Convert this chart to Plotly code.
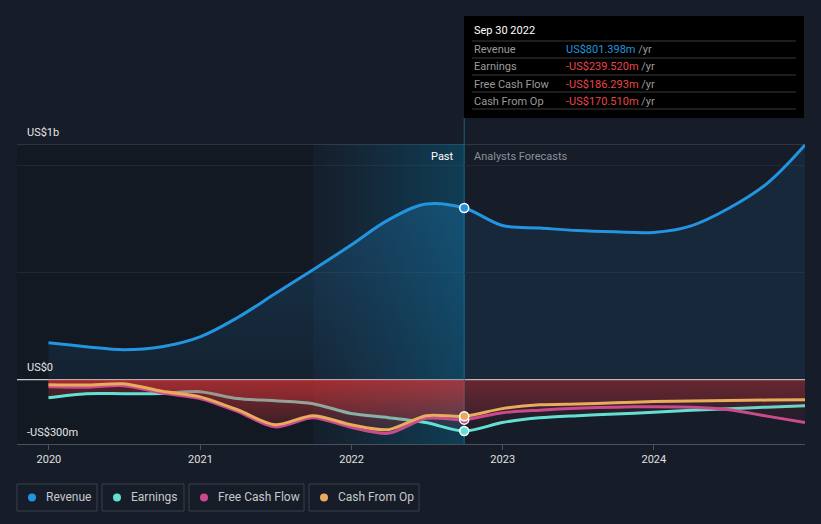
import plotly.graph_objects as go

# ---------------- data ----------------
dates_past = ["2019-12-31", "2020-03-31", "2020-06-30", "2020-09-30", "2020-12-31",
              "2021-03-31", "2021-06-30", "2021-09-30", "2021-12-31", "2022-03-31",
              "2022-06-30", "2022-09-30"]
dates_fc = ["2022-09-30", "2022-12-31", "2023-03-31", "2023-06-30", "2023-09-30",
            "2023-12-31", "2024-03-31", "2024-06-30", "2024-09-30", "2024-12-31"]

revenue_past = [172, 154, 140, 154, 200, 289, 401, 513, 629, 746, 820, 801.398]
revenue_fc = [801.398, 720, 708, 696, 690, 687, 718, 800, 915, 1095]

earnings_past = [-84, -65, -65, -64, -56, -88, -98, -112, -158, -177, -200, -239.52]
earnings_fc = [-239.52, -200, -178, -168, -160, -152, -143, -135, -128, -121]

fcf_past = [-33, -35, -28, -62, -88, -148, -220, -177, -222, -250, -180, -186.293]
fcf_fc = [-186.293, -154, -142, -133, -128, -126, -128, -140, -170, -200]

cfo_past = [-23, -25, -19, -54, -80, -140, -210, -168, -210, -233, -168, -170.51]
cfo_fc = [-170.51, -135, -117, -113, -108, -102, -99, -97, -95, -93]

series_names = ["Revenue", "Earnings", "Free Cash Flow", "Cash From Op"]
series_colors = ["#2394df", "#64e0d2", "#c94b8e", "#e8ac5c"]
tooltip_date = "Sep 30 2022"
tooltip_values = ["US$801.398m", "-US$239.520m", "-US$186.293m", "-US$170.510m"]
x_ticks = ["2020-01-01", "2021-01-01", "2022-01-01", "2023-01-01", "2024-01-01"]
x_ticklabels = ["2020", "2021", "2022", "2023", "2024"]
y_labels = ["US$1b", "US$0", "-US$300m"]
y_label_vals = [1000, 0, -300]

# ---------------- layout helpers ----------------
W, H = 821, 524
ML, MR, MT, MB = 17, 16, 144, 80
PW, PH = W - ML - MR, H - MT - MB


def px(xp):
    return (xp - ML) / PW


def py(yp):
    return (H - MB - yp) / PH


BG = "#161c28"
FONT = "Roboto, 'Open Sans', sans-serif"
split = dates_past[-1]
hl_start = "2021-09-30"

fig = go.Figure()

# highlight (last 12 months) gradient region
fig.add_trace(go.Scatter(
    x=[hl_start, split, split, hl_start, hl_start],
    y=[-300, -300, 1100, 1100, -300],
    fill="toself", mode="none", hoverinfo="skip", showlegend=False,
    fillgradient=dict(type="horizontal",
                      colorscale=[[0, "rgba(0,130,180,0.02)"], [1, "rgba(0,140,190,0.30)"]]),
))

# revenue fills
fig.add_trace(go.Scatter(
    x=dates_past, y=revenue_past, mode="none", fill="tozeroy", line_shape="spline",
    hoverinfo="skip", showlegend=False,
    fillgradient=dict(type="vertical", start=0, stop=850,
                      colorscale=[[0, "rgba(35,148,223,0.07)"], [1, "rgba(35,148,223,0.24)"]]),
))
fig.add_trace(go.Scatter(
    x=dates_fc, y=revenue_fc, mode="none", fill="tozeroy", line_shape="spline",
    hoverinfo="skip", showlegend=False, fillcolor="rgba(35,148,223,0.11)",
))

# revenue line
fig.add_trace(go.Scatter(
    x=dates_past + dates_fc[1:], y=revenue_past + revenue_fc[1:], mode="lines",
    line=dict(color=series_colors[0], width=3, shape="spline", smoothing=1.0),
    hoverinfo="skip", showlegend=False,
))


def red_fill(xs, ys, past):
    if past:
        cs = [[0, "rgba(230,55,55,0.07)"], [1, "rgba(230,55,55,0.30)"]]
        g = dict(type="vertical", start=-250, stop=0, colorscale=cs)
    else:
        cs = [[0, "rgba(230,55,60,0.06)"], [1, "rgba(230,55,60,0.15)"]]
        g = dict(type="vertical", start=-200, stop=0, colorscale=cs)
    fig.add_trace(go.Scatter(x=xs, y=ys, mode="none", fill="tozeroy", line_shape="spline",
                             fillgradient=g, hoverinfo="skip", showlegend=False))


def line(xs, ys, color):
    fig.add_trace(go.Scatter(x=xs, y=ys, mode="lines",
                             line=dict(color=color, width=3, shape="spline", smoothing=0.8),
                             hoverinfo="skip", showlegend=False))


# earnings
red_fill(dates_past, earnings_past, True)
red_fill(dates_fc, earnings_fc, False)
line(dates_past + dates_fc[1:], earnings_past + earnings_fc[1:], series_colors[1])
# fcf + cfo fills over earnings line
red_fill(dates_past, fcf_past, True)
red_fill(dates_fc, fcf_fc, False)
red_fill(dates_past, cfo_past, True)
red_fill(dates_fc, cfo_fc, False)
line(dates_past + dates_fc[1:], fcf_past + fcf_fc[1:], series_colors[2])
line(dates_past + dates_fc[1:], cfo_past + cfo_fc[1:], series_colors[3])

# markers at the split date
mark_vals = [revenue_past[-1], earnings_past[-1], fcf_past[-1], cfo_past[-1]]
for v, c in zip(mark_vals, series_colors):
    fig.add_trace(go.Scatter(x=[split], y=[v], mode="markers",
                             marker=dict(size=9, color=c, line=dict(color="white", width=1.5)),
                             hoverinfo="skip", showlegend=False))

shapes = []
annotations = []

# darker pre-highlight area
shapes.append(dict(type="rect", xref="x", yref="paper", x0="2019-10-16", x1=hl_start,
                   y0=0, y1=1, fillcolor="rgba(0,0,0,0.10)", line_width=0, layer="below"))
# top line and zero line
shapes.append(dict(type="line", xref="paper", yref="y", x0=0, x1=1, y0=1100, y1=1100,
                   line=dict(color="#4b505b", width=1.2), layer="below"))
shapes.append(dict(type="line", xref="paper", yref="y", x0=0, x1=1, y0=0, y1=0,
                   line=dict(color="#c9c9c9", width=1.2), layer="below"))
# vertical split line
shapes.append(dict(type="line", xref="x", yref="paper", x0=split, x1=split,
                   y0=0, y1=py(118), line=dict(color="#1b5f7c", width=1), layer="below"))

# y labels
for lab, v in zip(y_labels, y_label_vals):
    yp = {1000: 132, 0: 367, -300: 432}[v]
    annotations.append(dict(text=lab, x=px(25), y=py(yp), xref="paper", yref="paper",
                            xanchor="left", yanchor="middle", showarrow=False,
                            font=dict(size=11, color="#e6e6e6", family=FONT)))

# Past / Analysts Forecasts
annotations.append(dict(text="Past", x=px(456), y=py(156), xref="paper", yref="paper",
                        xanchor="right", yanchor="middle", showarrow=False,
                        font=dict(size=11, color="#ffffff", family=FONT)))
annotations.append(dict(text="Analysts Forecasts", x=px(472), y=py(156), xref="paper",
                        yref="paper", xanchor="left", yanchor="middle", showarrow=False,
                        font=dict(size=11, color="#8b9098", family=FONT)))

# tooltip box
shapes.append(dict(type="rect", xref="paper", yref="paper", x0=px(464), x1=px(804),
                   y0=py(118), y1=py(16), fillcolor="#000000", line_width=0, layer="above"))
annotations.append(dict(text=tooltip_date, x=px(472), y=py(31), xref="paper", yref="paper",
                        xanchor="left", yanchor="middle", showarrow=False,
                        font=dict(size=11, color="#ffffff", family=FONT)))
for yy in [41, 58, 75, 92, 109]:
    shapes.append(dict(type="line", xref="paper", yref="paper", x0=px(472), x1=px(796),
                       y0=py(yy), y1=py(yy), line=dict(color="#3a3a3a", width=1), layer="above"))
val_colors = ["#2394df", "#e8464a", "#e8464a", "#e8464a"]
for i, (nm, val, vc) in enumerate(zip(series_names, tooltip_values, val_colors)):
    yrow = 49.5 + i * 17.3
    annotations.append(dict(text=nm, x=px(472), y=py(yrow), xref="paper", yref="paper",
                            xanchor="left", yanchor="middle", showarrow=False,
                            font=dict(size=11, color="#9a9a9a", family=FONT)))
    annotations.append(dict(text=f"<span style='color:{vc}'>{val}</span> /yr", x=px(564),
                            y=py(yrow), xref="paper", yref="paper", xanchor="left",
                            yanchor="middle", showarrow=False,
                            font=dict(size=11, color="#9a9a9a", family=FONT)))

# custom legend
boxes = [(17, 97), (102, 184), (189, 304), (309, 419)]
for (x0, x1), nm, c in zip(boxes, series_names, series_colors):
    shapes.append(dict(type="rect", xref="paper", yref="paper", x0=px(x0), x1=px(x1),
                       y0=py(511), y1=py(484), line=dict(color="#3a404b", width=1),
                       fillcolor="rgba(0,0,0,0)"))
    shapes.append(dict(type="circle", xref="paper", yref="paper", xsizemode="pixel",
                       ysizemode="pixel", xanchor=px(x0 + 15), yanchor=py(497.5),
                       x0=-4, x1=4, y0=-4, y1=4, fillcolor=c, line_width=0))
    annotations.append(dict(text=nm, x=px(x0 + 27), y=py(497.5), xref="paper", yref="paper",
                            xanchor="left", yanchor="middle", showarrow=False,
                            font=dict(size=12, color="#c8c8c8", family=FONT)))

fig.update_layout(
    width=W, height=H,
    margin=dict(l=ML, r=MR, t=MT, b=MB),
    paper_bgcolor=BG, plot_bgcolor=BG,
    showlegend=False,
    shapes=shapes, annotations=annotations,
    font=dict(family=FONT, color="#e0e0e0"),
    xaxis=dict(type="date", range=["2019-10-16", "2024-12-31"],
               tickvals=x_ticks, ticktext=x_ticklabels,
               showgrid=False, zeroline=False, showline=True, linecolor="#4a505c",
               linewidth=1, ticks="outside", ticklen=5, tickcolor="#4a505c",
               tickfont=dict(size=11, color="#e0e0e0", family=FONT), fixedrange=True),
    yaxis=dict(range=[-300, 1100], tickvals=[500, 1000], showticklabels=False,
               showgrid=True, gridcolor="#212834", gridwidth=1.2, zeroline=False,
               showline=False, fixedrange=True),
)

fig.write_html("out.html", config={"displayModeBar": False},
               post_script="document.body.style.margin='0';document.body.style.background='#161c28';")
